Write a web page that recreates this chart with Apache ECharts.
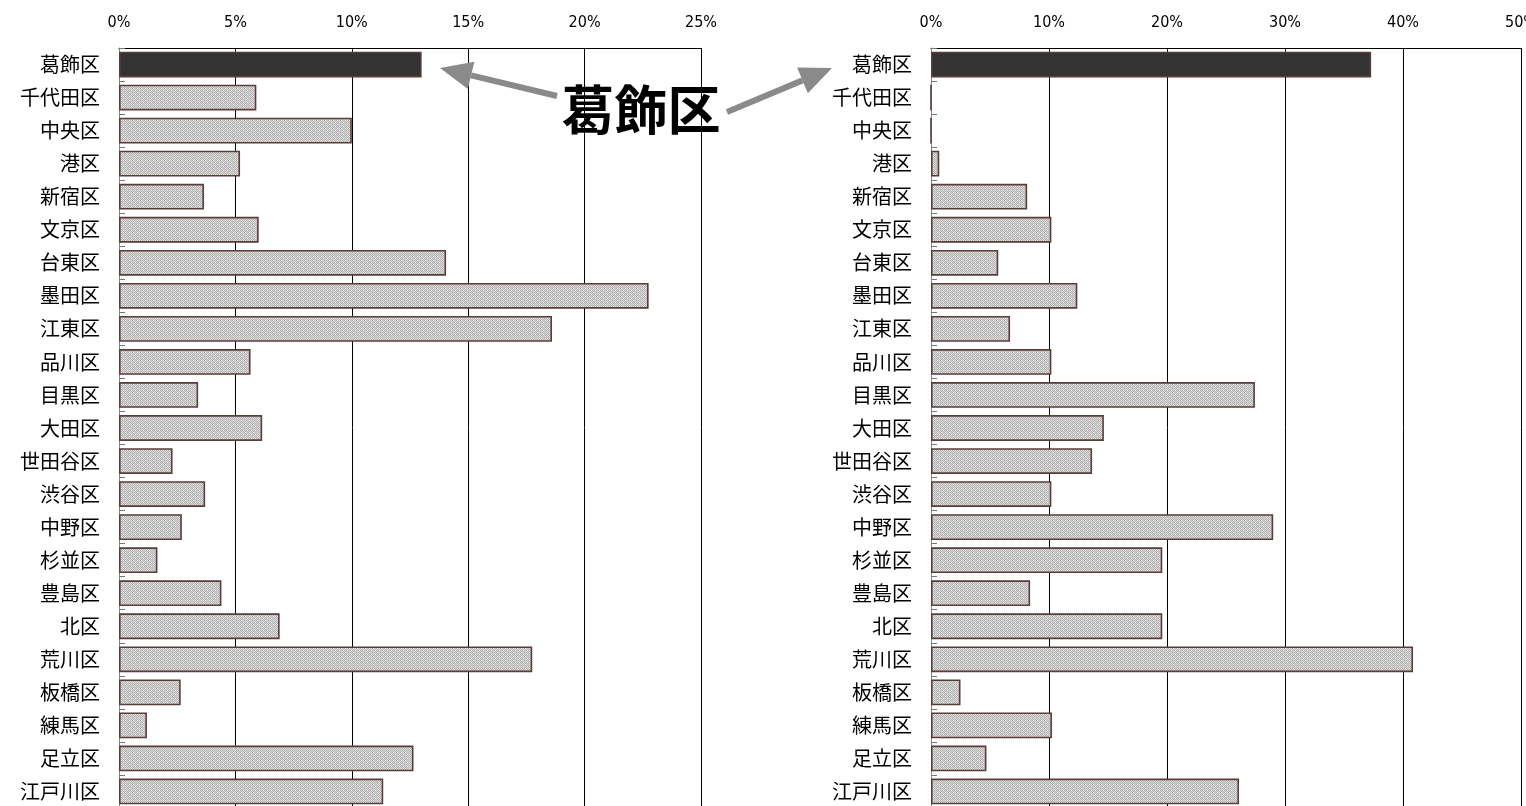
<!DOCTYPE html>
<html>
<head>
<meta charset="utf-8">
<script src="https://cdn.jsdelivr.net/npm/echarts@6/dist/echarts.min.js"></script>
<style>
  html, body { margin: 0; padding: 0; background: #fff; }
  #chart { width: 1526px; height: 806px; }
</style>
</head>
<body>
<div id="chart"></div>
<script>
// 東京23区（葛飾区を先頭に）
const wards = ['葛飾区','千代田区','中央区','港区','新宿区','文京区','台東区','墨田区','江東区','品川区','目黒区','大田区','世田谷区','渋谷区','中野区','杉並区','豊島区','北区','荒川区','板橋区','練馬区','足立区','江戸川区'];
// 左図の比率（%）
const leftValues = [13.0, 5.9, 10.0, 5.2, 3.65, 6.0, 14.05, 22.75, 18.6, 5.65, 3.4, 6.15, 2.3, 3.7, 2.7, 1.65, 4.4, 6.9, 17.75, 2.65, 1.2, 12.65, 11.35];
// 右図の比率（%）
const rightValues = [37.3, 0, 0, 0.7, 8.15, 10.2, 5.7, 12.4, 6.7, 10.2, 27.45, 14.65, 13.65, 10.2, 29.0, 19.6, 8.4, 19.6, 40.85, 2.5, 10.25, 4.7, 26.1];
// 目盛り
const leftTicks = { min: 0, max: 25, interval: 5 };
const rightTicks = { min: 0, max: 50, interval: 10 };
const highlight = '葛飾区';

// 網掛けの塗り（1ピクセルの市松に白点）
function makePattern() {
  const c = document.createElement('canvas');
  c.width = 4; c.height = 4;
  const g = c.getContext('2d');
  for (let y = 0; y < 4; y++) {
    for (let x = 0; x < 4; x++) {
      g.fillStyle = ((x + y) % 2 === 0) ? '#b0b0b0' : '#d8d8d8';
      g.fillRect(x, y, 1, 1);
    }
  }
  g.fillStyle = '#f4f4f4';
  g.fillRect(1, 0, 1, 1);
  g.fillRect(3, 2, 1, 1);
  return c;
}
const pattern = { image: makePattern(), repeat: 'repeat' };

const font = '"Noto Sans CJK JP", "Noto Sans", sans-serif';
const numFont = '"DejaVu Sans Condensed", "Liberation Sans Narrow", "Noto Sans", sans-serif';
const chart = echarts.init(document.getElementById('chart'), null, { renderer: 'canvas' });

function xAxisCfg(idx, t) {
  return {
    type: 'value', gridIndex: idx, position: 'top',
    min: t.min, max: t.max, interval: t.interval,
    axisLine: { show: true, lineStyle: { color: '#000', width: 1 } },
    axisTick: { show: false },
    axisLabel: { formatter: '{value}%', color: '#000', fontSize: 16, fontFamily: numFont, margin: 17 },
    splitLine: { show: true, lineStyle: { color: '#000', width: 1 } }
  };
}
function yAxisCfg(idx) {
  return {
    type: 'category', gridIndex: idx, data: wards, inverse: true,
    axisLine: { show: true, lineStyle: { color: '#888', width: 1 } },
    axisTick: { show: true, inside: true, length: 6, lineStyle: { color: '#777' } },
    axisLabel: { color: '#000', fontSize: 20, fontFamily: font, margin: 19 },
    splitLine: { show: false }
  };
}
function barData(vals) {
  return vals.map((v, i) => wards[i] === highlight
    ? { value: v, itemStyle: { color: '#333333' } }
    : v);
}
function barSeries(idx, vals) {
  return {
    type: 'bar', xAxisIndex: idx, yAxisIndex: idx,
    data: barData(vals), barCategoryGap: '22%',
    itemStyle: { color: pattern, borderColor: '#5a3c38', borderWidth: 1.6 },
    animation: false
  };
}

// 注記の矢印
function arrow(x1, y1, x2, y2) {
  const ang = Math.atan2(y2 - y1, x2 - x1);
  const headLen = 32, headHalf = 14;
  const bx = x2 - headLen * Math.cos(ang), by = y2 - headLen * Math.sin(ang);
  const nx = -Math.sin(ang), ny = Math.cos(ang);
  return [
    { type: 'line', shape: { x1: x1, y1: y1, x2: bx, y2: by }, style: { stroke: '#8a8a8a', lineWidth: 6 }, z: 100 },
    { type: 'polygon', shape: { points: [[x2, y2], [bx + nx * headHalf, by + ny * headHalf], [bx - nx * headHalf, by - ny * headHalf]] }, style: { fill: '#8a8a8a' }, z: 100 }
  ];
}

chart.setOption({
  backgroundColor: '#fff',
  animation: false,
  grid: [
    { left: 119, top: 48, width: 582, height: 760, containLabel: false, outerBoundsMode: 'none' },
    { left: 931, top: 48, width: 590, height: 760, containLabel: false, outerBoundsMode: 'none' }
  ],
  xAxis: [xAxisCfg(0, leftTicks), xAxisCfg(1, rightTicks)],
  yAxis: [yAxisCfg(0), yAxisCfg(1)],
  series: [barSeries(0, leftValues), barSeries(1, rightValues)],
  graphic: [
    ...arrow(557, 96, 440, 68),
    ...arrow(727, 112, 832, 68),
    { type: 'text', x: 641, y: 110, z: 101,
      style: { text: highlight, fill: '#000', font: 'bold 53px ' + font, align: 'center', verticalAlign: 'middle' } }
  ]
});
</script>
</body>
</html>
